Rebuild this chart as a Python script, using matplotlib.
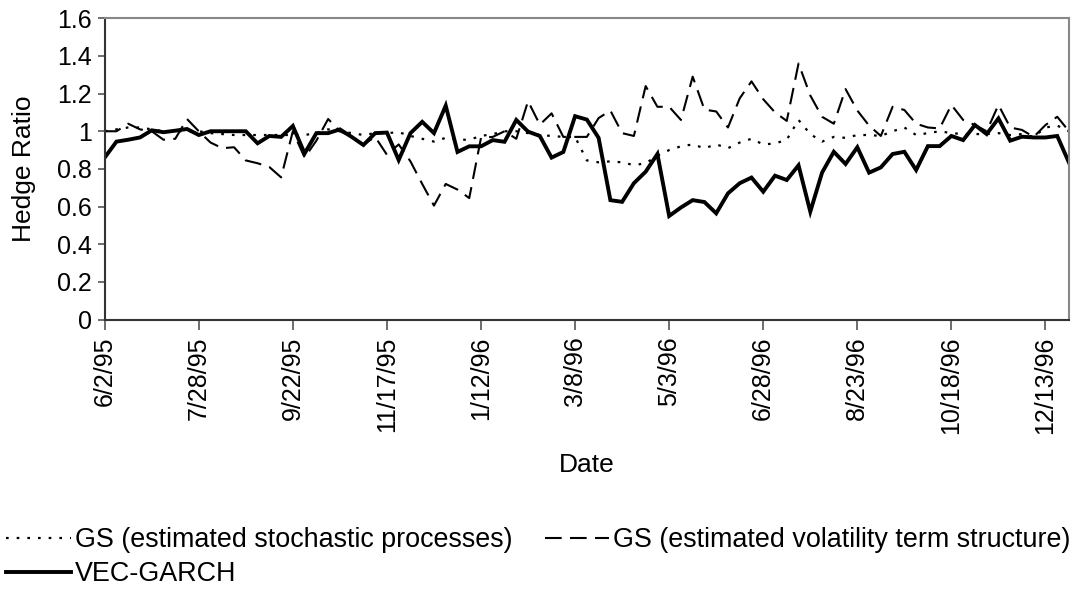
import matplotlib
matplotlib.use("Agg")
import matplotlib.pyplot as plt
from matplotlib.lines import Line2D

plt.rcParams['font.family'] = ['Liberation Sans', 'DejaVu Sans']

tick_labels = ["6/2/95", "7/28/95", "9/22/95", "11/17/95", "1/12/96", "3/8/96",
               "5/3/96", "6/28/96", "8/23/96", "10/18/96", "12/13/96"]

gs_stochastic = [1.0, 1.01, 1.02, 1.02, 1.01, 1.0, 1.0, 1.0, 1.0, 0.99,
                 0.985, 0.98, 0.98, 0.98, 0.98, 0.98, 0.98, 0.98, 0.99, 1.01,
                 1.0, 0.99, 0.98, 0.99, 0.99, 0.995, 0.975, 0.96, 0.945, 0.965,
                 0.955, 0.955, 0.975, 0.985, 1.0, 1.0, 0.99, 0.98, 0.975, 0.97,
                 0.97, 0.845, 0.835, 0.84, 0.835, 0.82, 0.83, 0.87, 0.9, 0.92,
                 0.93, 0.91, 0.93, 0.91, 0.94, 0.96, 0.93, 0.935, 0.955, 1.06,
                 0.985, 0.945, 0.97, 0.965, 0.98, 0.98, 0.975, 1.0, 1.02, 0.98,
                 0.99, 1.0, 0.99, 0.985, 0.985, 0.985, 0.99, 0.98, 0.985, 0.97,
                 1.02, 1.03, 1.0]

gs_volatility = [1.0, 1.0, 1.04, 1.01, 1.0, 0.955, 0.96, 1.065, 1.0, 0.94,
                 0.91, 0.915, 0.845, 0.83, 0.81, 0.755, 1.0, 0.86, 0.95, 1.065,
                 1.0, 0.97, 0.93, 0.97, 0.875, 0.93, 0.84, 0.72, 0.605, 0.72,
                 0.69, 0.645, 0.965, 0.97, 1.0, 0.96, 1.16, 1.035, 1.095, 0.97,
                 0.97, 0.97, 1.07, 1.11, 0.99, 0.975, 1.24, 1.13, 1.13, 1.06,
                 1.29, 1.115, 1.105, 1.02, 1.175, 1.265, 1.17, 1.1, 1.055, 1.36,
                 1.19, 1.077, 1.04, 1.224, 1.11, 1.03, 0.975, 1.13, 1.113, 1.04,
                 1.02, 1.015, 1.14, 1.06, 1.033, 1.0, 1.14, 1.02, 1.007, 0.97,
                 1.033, 1.077, 1.0]

vec_garch = [0.86, 0.945, 0.955, 0.967, 1.005, 0.995, 1.003, 1.012, 0.98, 1.0,
             1.0, 1.0, 1.0, 0.936, 0.975, 0.97, 1.028, 0.882, 0.99, 0.99,
             1.01, 0.97, 0.927, 0.99, 0.993, 0.847, 0.99, 1.05, 0.99, 1.136,
             0.89, 0.92, 0.92, 0.953, 0.944, 1.06, 0.998, 0.975, 0.86, 0.89,
             1.08, 1.062, 0.965, 0.634, 0.625, 0.724, 0.785, 0.879, 0.55, 0.595,
             0.634, 0.624, 0.564, 0.67, 0.724, 0.754, 0.679, 0.764, 0.741, 0.819,
             0.573, 0.78, 0.891, 0.826, 0.915, 0.78, 0.808, 0.879, 0.891, 0.794,
             0.921, 0.921, 0.975, 0.953, 1.033, 0.985, 1.068, 0.95, 0.971, 0.967,
             0.967, 0.975, 0.833]

label_step = 8
x = list(range(len(vec_garch)))

dot_style = (0, (1.2, 3.6))
dash_style = (0, (8.0, 4.0))

fig = plt.figure(figsize=(10.86, 5.92), dpi=100)
ax = fig.add_axes([104.7 / 1086, 1 - 319.5 / 592, (1069 - 104.7) / 1086, (319.5 - 18.3) / 592])

ax.plot(x, gs_stochastic, color='black', lw=1.6, linestyle=dot_style, dash_capstyle='butt')
ax.plot(x, gs_volatility, color='black', lw=1.5, linestyle=dash_style, dash_capstyle='butt')
ax.plot(x, vec_garch, color='black', lw=2.8, solid_joinstyle='miter')

ax.set_xlim(0, len(x) - 1)
ax.set_ylim(0, 1.6)
ax.set_yticks([0, 0.2, 0.4, 0.6, 0.8, 1.0, 1.2, 1.4, 1.6])
ax.set_yticklabels(["0", "0.2", "0.4", "0.6", "0.8", "1", "1.2", "1.4", "1.6"], fontsize=18)
ax.set_xticks(x[::label_step])
ax.set_xticklabels(tick_labels, rotation=90, fontsize=18)
ax.tick_params(axis='x', direction='out', length=7, width=1.2, color='#555555', pad=5)
ax.tick_params(axis='y', direction='out', length=5, width=1.2, color='#555555', pad=4)

for side in ['top', 'right']:
    ax.spines[side].set_color('#888888')
    ax.spines[side].set_linewidth(1.5)
for side in ['left', 'bottom']:
    ax.spines[side].set_color('#333333')
    ax.spines[side].set_linewidth(1.5)

ax.set_ylabel("Hedge Ratio", fontsize=19)
ax.yaxis.set_label_coords(-0.071, 0.5)
ax.set_xlabel("Date", fontsize=19)
ax.xaxis.set_label_coords(0.5, -0.443)

h1 = Line2D([], [], color='black', lw=1.6, linestyle=dot_style, dash_capstyle='butt')
h2 = Line2D([], [], color='black', lw=1.5, linestyle=dash_style, dash_capstyle='butt')
h3 = Line2D([], [], color='black', lw=2.8)
fig.legend([h1, h3, h2],
           ["GS (estimated stochastic processes)", "VEC-GARCH",
            "GS (estimated volatility term structure)"],
           ncol=2, loc='upper left', bbox_to_anchor=(6 / 1086, 1 - 527 / 592), frameon=False,
           fontsize=19.4, handlelength=2.4, handletextpad=0.15, columnspacing=1.2,
           labelspacing=0.3, borderpad=0, borderaxespad=0)

fig.savefig("out.png", dpi=100)
